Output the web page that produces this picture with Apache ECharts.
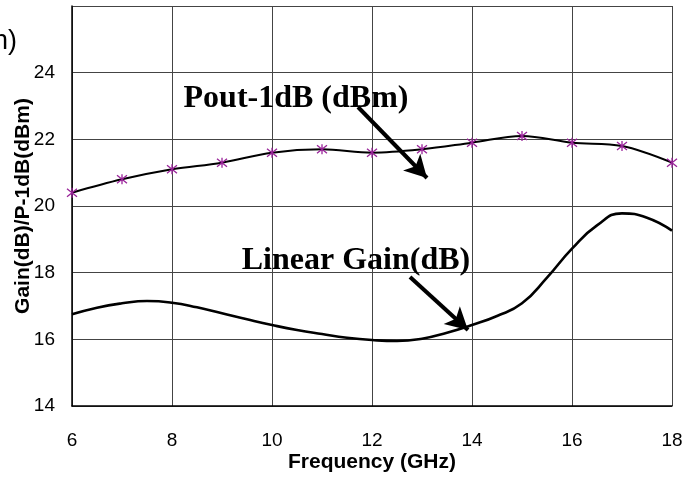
<!DOCTYPE html>
<html>
<head>
<meta charset="utf-8">
<script src="https://cdn.jsdelivr.net/npm/echarts@6/dist/echarts.min.js"></script>
<style>
  html, body { margin: 0; padding: 0; background: #fff; }
  #main { width: 686px; height: 478px; }
</style>
</head>
<body>
<div id="main"></div>
<script>
// 频率 (GHz)
const freq = [6, 7, 8, 9, 10, 11, 12, 13, 14, 15, 16, 17, 18]
// Pout-1dB (dBm)
const pout = [20.4, 20.8, 21.1, 21.3, 21.6, 21.7, 21.6, 21.7, 21.9, 22.1, 21.9, 21.8, 21.3]
// Linear Gain (dB), read every 0.5 GHz
const gainFreq = [6, 6.5, 7, 7.5, 8, 8.5, 9, 9.5, 10, 10.5, 11, 11.5, 12, 12.5, 13, 13.5, 14, 14.5, 15, 15.5, 16, 16.5, 17, 17.5, 18]
const gain = [16.75, 16.95, 17.08, 17.15, 17.1, 16.96, 16.78, 16.6, 16.43, 16.28, 16.16, 16.05, 15.98, 15.95, 16.02, 16.2, 16.43, 16.7, 17.08, 17.85, 18.72, 19.42, 19.78, 19.65, 19.26]
// 注释
const poutLabelAt = [10.48, 23.22]
const gainLabelAt = [11.68, 18.36]
const poutArrow = [[11.72, 22.97], [13.1, 20.84]]
const gainArrow = [[12.76, 17.87], [13.92, 16.28]]

const chart = echarts.init(document.getElementById('main'))

const star = 'path://M0,-5L0,5M-4,-4L4,4M4,-4L-4,4'
const noteText = {
  fontFamily: 'Liberation Serif, Times New Roman, serif',
  fontWeight: 'bold',
  fontSize: 32,
  color: '#000'
}

let option = {
  animation: false,
  backgroundColor: '#fff',
  grid: { left: 72, right: 14, top: 6, bottom: 72, outerBoundsMode: 'none' },
  graphic: [
    {
      type: 'text', left: -7, top: 28,
      style: { text: 'h)', font: '27px Liberation Sans, Arial', fill: '#000' }
    }
  ],
  xAxis: {
    type: 'value', min: 6, max: 18, interval: 2,
    name: 'Frequency (GHz)', nameLocation: 'middle', nameGap: 46, nameMoveOverlap: false,
    nameTextStyle: { fontFamily: 'Liberation Sans, Arial', fontWeight: 'bold', fontSize: 21, color: '#000' },
    axisLine: { show: true, lineStyle: { color: '#000', width: 1.5 } },
    axisTick: { show: false },
    axisLabel: { fontFamily: 'Liberation Sans, Arial', fontSize: 19, color: '#000', margin: 25 },
    splitLine: { show: true, lineStyle: { color: '#444', width: 1 } }
  },
  yAxis: {
    type: 'value', min: 14, max: 26, interval: 2,
    name: 'Gain(dB)/P-1dB(dBm)', nameLocation: 'middle', nameGap: 38, nameMoveOverlap: false,
    nameTextStyle: { fontFamily: 'Liberation Sans, Arial', fontWeight: 'bold', fontSize: 21, color: '#000' },
    axisLine: { show: true, lineStyle: { color: '#000', width: 1.5 } },
    axisTick: { show: false },
    axisLabel: {
      fontFamily: 'Liberation Sans, Arial', fontSize: 19, color: '#000', margin: 17,
      formatter: v => (v === 26 ? '' : v)
    },
    splitLine: { show: true, lineStyle: { color: '#444', width: 1 } }
  },
  series: [
    {
      name: 'Pout-1dB',
      type: 'line',
      smooth: 0.35,
      data: freq.map((f, i) => [f, pout[i]]),
      symbol: star,
      symbolSize: 10,
      lineStyle: { color: '#000', width: 2 },
      itemStyle: { color: 'rgba(0,0,0,0)', borderColor: '#992299', borderWidth: 1.3 },
      markPoint: {
        symbol: 'circle', symbolSize: 0,
        label: { show: true, position: 'inside', formatter: 'Pout-1dB (dBm)', ...noteText },
        data: [{ coord: poutLabelAt }]
      },
      markLine: {
        silent: true,
        symbol: ['none', 'arrow'], symbolSize: [18, 22],
        lineStyle: { color: '#000', width: 4, type: 'solid' },
        label: { show: false },
        data: [[{ coord: poutArrow[0] }, { coord: poutArrow[1] }]]
      }
    },
    {
      name: 'Linear Gain',
      type: 'line',
      smooth: true,
      showSymbol: false,
      data: gainFreq.map((f, i) => [f, gain[i]]),
      lineStyle: { color: '#000', width: 2.6 },
      markPoint: {
        symbol: 'circle', symbolSize: 0,
        label: { show: true, position: 'inside', formatter: 'Linear Gain(dB)', ...noteText },
        data: [{ coord: gainLabelAt }]
      },
      markLine: {
        silent: true,
        symbol: ['none', 'arrow'], symbolSize: [18, 22],
        lineStyle: { color: '#000', width: 4, type: 'solid' },
        label: { show: false },
        data: [[{ coord: gainArrow[0] }, { coord: gainArrow[1] }]]
      }
    }
  ]
}
chart.setOption(option)
</script>
</body>
</html>
